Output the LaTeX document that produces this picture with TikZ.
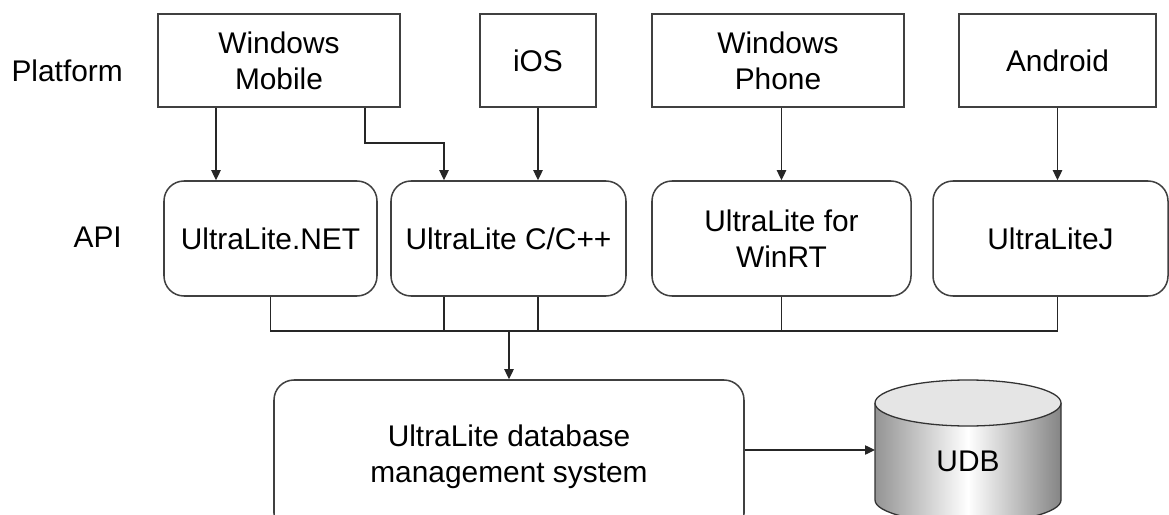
\documentclass[tikz,border=0pt]{standalone}
\usepackage{fontspec}
\setmainfont{Liberation Sans}
\usetikzlibrary{arrows.meta}

\tikzset{
	platbox/.style={draw=black!75, line width=1.3pt, minimum height=2.79cm, inner sep=0pt, align=center},
	apibox/.style={draw=black!75, line width=1.3pt, rounded corners=0.6cm, minimum height=3.45cm, inner sep=0pt, align=center},
	link/.style={draw=black!85, line width=1.1pt},
	arrow/.style={link, -{Triangle[length=0.3cm, width=0.28cm]}},
	rowlabel/.style={anchor=base east, inner sep=0pt}
}

\begin{document}
\begin{tikzpicture}[font=\fontsize{25.5}{31}\selectfont]
		\useasboundingbox (0,0) rectangle (35.07,-15.45);
		\clip (0,0) rectangle (35.07,-15.45);
		
		% row labels
		\node[rowlabel] (plat) at (3.69,-2.46) {Platform};
		\node[rowlabel] (api) at (3.66,-7.41) {API};
		
		% platforms
		\node[platbox, minimum width=7.26cm] (wm) at (8.37,-1.815) {Windows\\Mobile};
		\node[platbox, minimum width=3.48cm] (ios) at (16.14,-1.815) {iOS};
		\node[platbox, minimum width=7.56cm] (wp) at (23.34,-1.815) {Windows\\Phone};
		\node[platbox, minimum width=5.91cm] (android) at (31.725,-1.815) {Android};
		
		% APIs
		\node[apibox, minimum width=6.39cm] (net) at (8.115,-7.155) {UltraLite.NET};
		\node[apibox, minimum width=7.05cm] (cpp) at (15.255,-7.155) {UltraLite C/C++};
		\node[apibox, minimum width=7.77cm] (winrt) at (23.445,-7.155) {UltraLite for\\WinRT};
		\node[apibox, minimum width=7.05cm] (ulj) at (31.515,-7.155) {UltraLiteJ};
		
		% database engine
		\node[apibox, minimum width=14.1cm, minimum height=4.6cm] (dbms) at (15.27,-13.7) {UltraLite database\\management system};
		
		% UDB cylinder
		\shade[left color=black!42, right color=black!48, middle color=white]
			(26.25,-12.09) -- (26.25,-15.0) arc (180:360:2.79 and 0.69) -- (31.83,-12.09) arc (360:180:2.79 and 0.69) -- cycle;
		\draw[black!80, line width=1.1pt]
			(26.25,-12.09) -- (26.25,-15.0) arc (180:360:2.79 and 0.69) -- (31.83,-12.09);
		\draw[black!80, line width=1.1pt, fill=black!10] (29.04,-12.09) ellipse (2.79 and 0.69);
		\node (udb) at (29.04,-13.83) {UDB};
		\coordinate (udbw) at (26.25,-13.5);
		
		% platform -> API
		\coordinate (c1) at (6.48,0);
		\coordinate (c2) at (10.95,0);
		\coordinate (c3) at (13.32,0);
		\coordinate (bend) at (0,-4.29);
		\draw[arrow] (c1 |- wm.south) -- (c1 |- net.north);
		\draw[arrow] (c2 |- wm.south) -- (c2 |- bend) -- (c3 |- bend) -- (c3 |- cpp.north);
		\draw[arrow] (ios.south) -- (ios.south |- cpp.north);
		\draw[arrow] (winrt.north |- wp.south) -- (winrt.north);
		\draw[arrow] (android.south) -- (android.south |- ulj.north);
		
		% API -> engine
		\coordinate (bus) at (0,-9.93);
		\draw[link] (net.south) -- (net.south |- bus) -- (android.south |- bus) -- (android.south |- ulj.south);
		\draw[link] (c3 |- cpp.south) -- (c3 |- bus);
		\draw[link] (ios.south |- cpp.south) -- (ios.south |- bus);
		\draw[link] (winrt.south) -- (winrt.south |- bus);
		\draw[arrow] (dbms.north |- bus) -- (dbms.north);
		
		\draw[arrow] (dbms.east |- udbw) -- (udbw);
	\end{tikzpicture}
\end{document}
